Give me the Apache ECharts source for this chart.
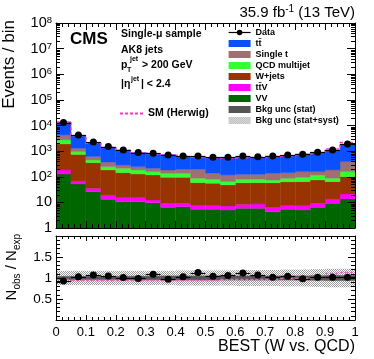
<!DOCTYPE html>
<html><head><meta charset="utf-8">
<script src="https://cdn.jsdelivr.net/npm/echarts@6/dist/echarts.min.js"></script>
<style>html,body{margin:0;padding:0;background:#fff}#c{width:374px;height:359px}</style>
</head><body><div id="c"></div>
<script>
// ---------------- data ----------------
const binEdges = [0,0.05,0.1,0.15,0.2,0.25,0.3,0.35,0.4,0.45,0.5,0.55,0.6,0.65,0.7,0.75,0.8,0.85,0.9,0.95,1];
const xTickLabels = ['0','0.1','0.2','0.3','0.4','0.5','0.6','0.7','0.8','0.9','1'];
const yTickLabels = ['1','10','10{s|2}','10{s|3}','10{s|4}','10{s|5}','10{s|6}','10{s|7}','10{s|8}'];
const ratioTickLabels = ['', '0.5', '1', '1.5', ''];

const vv      = [128.6,52.3,26.2,13.2,10.6,10.6,9.7,6.4,6.8,5.4,5.4,5.05,5.9,5.9,4.3,5.4,5.05,6.4,9.2,13.6];
const ttv     = [55.8,16.2,9.4,6.3,4.7,4.7,2.7,2.8,2.4,2.5,2.5,2.15,2.5,2.8,2.1,2.5,2.35,2.8,4.4,7.7];
const wjets   = [1726,674,320,165,129,113,105,86,86,51,48,41,50,50,52,56,57,66,51,80];
const qcd     = [828,212,97,64,70,56,41,41,41,29,24,17,21,21,16,23,31,42,23,57];
const singleT = [1557,342,168,123,74,64,56,47,59,109,57,53,45,45,62,57,63,41,97,231];
const ttbar   = [9662,2872,1517,1057,813,635,545,549,434,378,419,427,454,445,499,539,614,730,907,1484];
const dataObs = [12980,4295,2288,1500,1113,874,828,711,649,649,578,578,649,610,649,711,757,906,1113,1910];
const ratioObs = [0.93,1.03,1.07,1.05,1.01,0.99,1.09,0.97,1.03,1.13,1.04,1.06,1.12,1.07,1.02,1.04,0.98,1.02,1.02,1.02];
const herwigRatio = [0.97,0.96,0.95,0.96,0.96,0.95,0.96,0.95,0.95,0.96,0.96,0.97,0.97,0.98,0.98,0.99,1.0,1.02,1.12,1.15];
const statUnc = [0.04,0.04,0.04,0.04,0.04,0.045,0.045,0.05,0.05,0.05,0.05,0.05,0.05,0.05,0.05,0.05,0.05,0.055,0.06,0.06];
const systUnc = [0.17,0.17,0.17,0.17,0.17,0.17,0.17,0.17,0.18,0.18,0.18,0.18,0.19,0.19,0.19,0.2,0.2,0.21,0.22,0.22];

// ---------------- chart ----------------
const FONT = '"Liberation Sans", Arial, Helvetica, sans-serif';
const chart = echarts.init(document.getElementById('c'), null, {renderer:'canvas'});

const pat = document.createElement('canvas'); pat.width = 2; pat.height = 2;
const pc = pat.getContext('2d'); pc.fillStyle = '#999999'; pc.fillRect(0,0,1,1); pc.fillRect(1,1,1,1);
const hatch = {image: pat, repeat: 'repeat'};

const centers = binEdges.slice(0, 20).map((e, i) => (e + binEdges[i + 1]) / 2);

function rectRender(params, api) {
  const a = api.coord([api.value(0), api.value(3)]);
  const b = api.coord([api.value(1), api.value(2)]);
  const fill = api.visual('color');
  return {type:'rect', shape:{x:a[0], y:a[1], width:b[0]-a[0], height:b[1]-a[1]},
          style:{fill: fill, stroke: (typeof fill === 'string') ? fill : null, lineWidth: (typeof fill === 'string') ? 0.4 : 0}};
}
function hbarRender(color, width, dash) {
  return function (params, api) {
    const a = api.coord([api.value(0), api.value(2)]);
    const b = api.coord([api.value(1), api.value(2)]);
    const y = Math.round(a[1]) + 0.5;
    return {type:'line', shape:{x1:a[0], y1:y, x2:b[0], y2:y}, style:{stroke:color, lineWidth:width, lineDash: dash || null}};
  };
}

const series = [];
const layers = [
  {name:'VV', vals:vv, color:'#006600'},
  {name:'tt\u0304V', vals:ttv, color:'#ff00ff'},
  {name:'W+jets', vals:wjets, color:'#993300'},
  {name:'QCD multijet', vals:qcd, color:'#33ff33'},
  {name:'Single t', vals:singleT, color:'#a07070'},
  {name:'tt\u0304', vals:ttbar, color:'#0a50ff'}
];
let base = new Array(20).fill(0);
layers.forEach((L, k) => {
  const d = L.vals.map((v, i) => [binEdges[i], binEdges[i + 1], k === 0 ? 1 : base[i], base[i] + v]);
  base = base.map((b, i) => b + L.vals[i]);
  series.push({type:'custom', name:L.name, xAxisIndex:0, yAxisIndex:0, clip:true, z:2,
    itemStyle:{color:L.color}, encode:{x:[0,1], y:[2,3]}, renderItem:rectRender, data:d});
});
const total = base;

// Herwig line in top panel
const herwigTop = [];
total.forEach((t, i) => { herwigTop.push([binEdges[i], t * herwigRatio[i]]); herwigTop.push([binEdges[i + 1], t * herwigRatio[i]]); });
series.push({type:'line', name:'SM (Herwig)', xAxisIndex:0, yAxisIndex:0, z:3, symbol:'none',
  itemStyle:{color:'#ff33cc'}, lineStyle:{color:'#ff33cc', width:1.5, type:[3,2]}, data:herwigTop});

// Data (top)
series.push({type:'custom', name:'DataBars', xAxisIndex:0, yAxisIndex:0, z:4, silent:true,
  renderItem:hbarRender('#000', 1.2), encode:{x:[0,1], y:2},
  data: dataObs.map((v, i) => [binEdges[i], binEdges[i + 1], v])});
series.push({type:'line', name:'Data', xAxisIndex:0, yAxisIndex:0, z:5, symbol:'circle', symbolSize:7,
  itemStyle:{color:'#000'}, lineStyle:{opacity:0}, data: dataObs.map((v, i) => [centers[i], v])});

// Ratio panel bands
series.push({type:'custom', name:'Bkg unc (stat+syst)', xAxisIndex:2, yAxisIndex:2, z:2, clip:true,
  itemStyle:{color:hatch}, encode:{x:[0,1], y:[2,3]}, renderItem:rectRender,
  data: systUnc.map((u, i) => [binEdges[i], binEdges[i + 1], 1 - u, 1 + u])});
series.push({type:'custom', name:'Bkg unc (stat)', xAxisIndex:2, yAxisIndex:2, z:3, clip:true,
  itemStyle:{color:'#555555'}, encode:{x:[0,1], y:[2,3]}, renderItem:rectRender,
  data: statUnc.map((u, i) => [binEdges[i], binEdges[i + 1], 1 - u, 1 + u])});
series.push({type:'custom', name:'SM (Herwig)', xAxisIndex:2, yAxisIndex:2, z:4, clip:true, silent:true,
  itemStyle:{color:'#ff33cc'}, renderItem:hbarRender('#ff55cc', 1.5, [3,2]), encode:{x:[0,1], y:2},
  data: herwigRatio.map((v, i) => [binEdges[i], binEdges[i + 1], v])});
series.push({type:'custom', name:'RatioBars', xAxisIndex:2, yAxisIndex:2, z:5, silent:true,
  renderItem:hbarRender('#000', 1.2), encode:{x:[0,1], y:2},
  data: ratioObs.map((v, i) => [binEdges[i], binEdges[i + 1], v])});
series.push({type:'line', name:'Data', xAxisIndex:2, yAxisIndex:2, z:6, symbol:'circle', symbolSize:7,
  itemStyle:{color:'#000'}, lineStyle:{opacity:0}, data: ratioObs.map((v, i) => [centers[i], v])});

// Log minor ticks (2..9 x 10^k) on left and right edges of top panel
const logMinor = [];
for (let k = 0; k < 8; k++) for (let m = 2; m <= 9; m++) logMinor.push([0, m * Math.pow(10, k)]);
series.push({type:'custom', name:'logMinor', xAxisIndex:0, yAxisIndex:0, z:11, silent:true,
  encode:{x:0, y:1}, data:logMinor,
  renderItem: function (params, api) {
    const pL = api.coord([0, api.value(1)]); const pR = api.coord([1, api.value(1)]);
    const y = Math.round(pL[1]) + 0.5;
    return {type:'group', children:[
      {type:'line', shape:{x1:pL[0], y1:y, x2:pL[0] + 4, y2:y}, style:{stroke:'#000', lineWidth:1}},
      {type:'line', shape:{x1:pR[0] - 4, y1:y, x2:pR[0], y2:y}, style:{stroke:'#000', lineWidth:1}}]};
  }});

function mkX(g, pos, labels) {
  return {type:'value', gridIndex:g, position:pos, min:0, max:1, interval:0.1, z:10,
    axisLine:{show:true, onZero:false, lineStyle:{color:'#000', width:1}},
    axisTick:{show:true, inside:true, length: g === 0 ? 7 : 5, lineStyle:{color:'#000'}},
    minorTick:{show:true, splitNumber:5, length: g === 0 ? 4 : 3, lineStyle:{color:'#000'}},
    splitLine:{show:false}, minorSplitLine:{show:false},
    axisLabel:{show:labels, fontSize:13, color:'#000', fontFamily:FONT, margin:6,
      formatter: v => xTickLabels[Math.round(v * 10)]}};
}
function mkLogY(pos, labels) {
  return {type:'log', logBase:10, gridIndex:0, position:pos, min:1, max:1e8, splitNumber:8, z:10,
    axisLine:{show:true, onZero:false, lineStyle:{color:'#000', width:1}},
    axisTick:{show:true, inside:true, length:8, lineStyle:{color:'#000'}},
    minorTick:{show:false}, splitLine:{show:false},
    axisLabel:{show:labels, fontSize:14.5, color:'#000', fontFamily:FONT, margin:4,
      formatter: v => yTickLabels[Math.round(Math.log10(v))],
      rich:{s:{fontSize:9.5, fontFamily:FONT, color:'#000', verticalAlign:'top', lineHeight:10, padding:[0,0,8,0]}}}};
}
function mkRY(pos, labels) {
  return {type:'value', gridIndex:1, position:pos, min:0, max:2, interval:0.5, z:10,
    axisLine:{show:true, onZero:false, lineStyle:{color:'#000', width:1}},
    axisTick:{show:true, inside:true, length:7, lineStyle:{color:'#000'}},
    minorTick:{show:true, splitNumber:5, length:4, lineStyle:{color:'#000'}},
    splitLine:{show:false}, minorSplitLine:{show:false},
    axisLabel:{show:labels, fontSize:13.5, color:'#000', fontFamily:FONT, margin:4,
      formatter: v => ratioTickLabels[Math.round(v * 2)]}};
}

const legendText = {fontSize:9, fontWeight:'bold', fontFamily:FONT, color:'#000'};
const option = {
  animation:false,
  grid:[{left:56, top:23, width:299, height:205}, {left:56, top:236, width:299, height:84}],
  xAxis:[mkX(0,'bottom',false), mkX(0,'top',false), mkX(1,'bottom',true), mkX(1,'top',false)],
  yAxis:[mkLogY('left',true), mkLogY('right',false), mkRY('left',true), mkRY('right',false)],
  legend:[
    {left:228, top:28, orient:'vertical', itemWidth:22, itemHeight:7, itemGap:2, padding:0,
     selectedMode:false, textStyle:legendText,
     data:[{name:'Data', lineStyle:{color:'#000', width:1.2, opacity:1, type:'solid'}},
           {name:'tt\u0304', icon:'rect'}, {name:'Single t', icon:'rect'}, {name:'QCD multijet', icon:'rect'},
           {name:'W+jets', icon:'rect'}, {name:'tt\u0304V', icon:'rect'}, {name:'VV', icon:'rect'},
           {name:'Bkg unc (stat)', icon:'rect'}, {name:'Bkg unc (stat+syst)', icon:'rect'}]},
    {left:120, top:108, orient:'horizontal', itemWidth:23, itemHeight:2, padding:0, selectedMode:false,
     symbolKeepAspect:false,
     textStyle:{fontSize:10.5, fontWeight:'bold', fontFamily:FONT, color:'#000', padding:[-4,0,0,0]},
     data:[{name:'SM (Herwig)', symbolKeepAspect:false,
            icon:'path://M0,0h3v2h-3zM5,0h3v2h-3zM10,0h3v2h-3zM15,0h3v2h-3zM20,0h3v2h-3z'}]}
  ],
  graphic:[
    {type:'text', x:355, y:13, z:20, style:{text:'35.9 fb{s|-1} (13 TeV)', font:'15px ' + FONT, fill:'#000',
      align:'right', verticalAlign:'middle', textAlign:'right', textVerticalAlign:'middle', lineHeight:18,
      rich:{s:{fontSize:10, fontFamily:FONT, verticalAlign:'top', lineHeight:10}}}},
    {type:'text', x:70, y:39, z:20, style:{text:'CMS', font:'bold 17px ' + FONT, fill:'#000',
      verticalAlign:'middle', textVerticalAlign:'middle'}},
    {type:'text', x:121, y:34, z:20, style:{text:'Single-\u03bc sample', font:'bold 10.5px ' + FONT, fill:'#000', verticalAlign:'middle', textVerticalAlign:'middle'}},
    {type:'text', x:121, y:50, z:20, style:{text:'AK8 jets', font:'bold 10.5px ' + FONT, fill:'#000', verticalAlign:'middle', textVerticalAlign:'middle'}},
    {type:'text', x:121, y:65, z:20, style:{text:'p', font:'bold 10.5px ' + FONT, fill:'#000', verticalAlign:'middle', textVerticalAlign:'middle'}},
    {type:'text', x:127, y:70, z:20, style:{text:'T', font:'bold 7px ' + FONT, fill:'#000', verticalAlign:'middle', textVerticalAlign:'middle'}},
    {type:'text', x:130, y:59, z:20, style:{text:'jet', font:'bold 7px ' + FONT, fill:'#000', verticalAlign:'middle', textVerticalAlign:'middle'}},
    {type:'text', x:142, y:65, z:20, style:{text:'> 200 GeV', font:'bold 10.5px ' + FONT, fill:'#000', verticalAlign:'middle', textVerticalAlign:'middle'}},
    {type:'text', x:121, y:84, z:20, style:{text:'|\u03b7', font:'bold 10.5px ' + FONT, fill:'#000', verticalAlign:'middle', textVerticalAlign:'middle'}},
    {type:'text', x:131, y:79, z:20, style:{text:'jet', font:'bold 7px ' + FONT, fill:'#000', verticalAlign:'middle', textVerticalAlign:'middle'}},
    {type:'text', x:141, y:84, z:20, style:{text:'| < 2.4', font:'bold 10.5px ' + FONT, fill:'#000', verticalAlign:'middle', textVerticalAlign:'middle'}},
    {type:'text', x:9, y:20, rotation:Math.PI / 2, z:20, style:{text:'Events / bin', font:'17px ' + FONT, fill:'#000',
      align:'right', verticalAlign:'middle', textAlign:'right', textVerticalAlign:'middle'}},
    {type:'text', x:12, y:234, rotation:Math.PI / 2, z:20, style:{text:'N{b|obs} / N{b|exp}', font:'15px ' + FONT, fill:'#000',
      align:'right', verticalAlign:'middle', textAlign:'right', textVerticalAlign:'middle', lineHeight:20,
      rich:{b:{fontSize:10, fontFamily:FONT, verticalAlign:'bottom', lineHeight:12}}}},
    {type:'text', x:355, y:347, z:20, style:{text:'BEST (W vs. QCD)', font:'16px ' + FONT, fill:'#000',
      align:'right', verticalAlign:'middle', textAlign:'right', textVerticalAlign:'middle'}}
  ],
  series: series
};
chart.setOption(option);
</script></body></html>
